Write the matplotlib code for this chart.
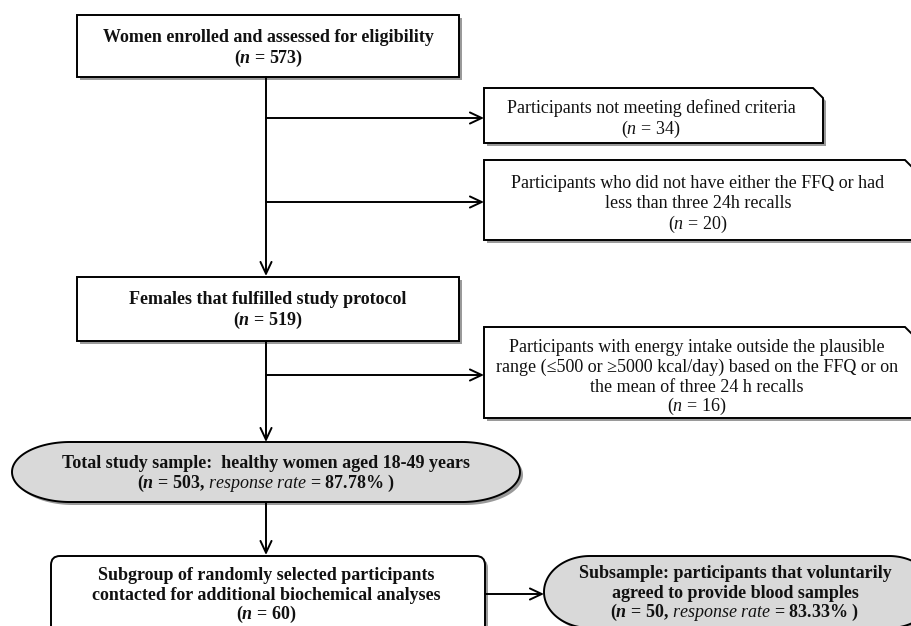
import matplotlib
matplotlib.use("Agg")
import numpy as np
import matplotlib.pyplot as plt
from matplotlib.patches import Polygon, FancyBboxPatch

plt.rcParams['font.family'] = ['Liberation Serif', 'DejaVu Serif']
plt.rcParams['mathtext.fontset'] = 'custom'
plt.rcParams['mathtext.rm'] = 'Liberation Serif'
plt.rcParams['mathtext.it'] = 'Liberation Serif:italic'
plt.rcParams['mathtext.bf'] = 'Liberation Serif:bold'
try:
    plt.rcParams['mathtext.bfit'] = 'Liberation Serif:italic:bold'
except KeyError:
    pass

# ---- data ----
n_enrolled = 573
n_not_criteria = 34
n_no_ffq = 20
n_protocol = 519
n_energy = 16
n_total = 503
rate_total = 87.78
n_subgroup = 60
n_subsample = 50
rate_sub = 83.33

main_titles = ["Women enrolled and assessed for eligibility",
               "Females that fulfilled study protocol"]
excl_texts = [["Participants not meeting defined criteria"],
              ["Participants who did not have either the FFQ or had",
               "less than three 24h recalls"],
              ["Participants with energy intake outside the plausible",
               "range (\u2264500 or \u22655000 kcal/day) based on the FFQ or on",
               "the mean of three 24 h recalls"]]
total_text = "Total study sample:  healthy women aged 18-49 years"
sub_texts = ["Subgroup of randomly selected participants",
             "contacted for additional biochemical analyses"]
subsample_texts = ["Subsample: participants that voluntarily",
                   "agreed to provide blood samples"]

W, H = 911, 626
fig = plt.figure(figsize=(W / 100, H / 100), dpi=100)
ax = fig.add_axes([0, 0, 1, 1])
ax.set_xlim(0, W)
ax.set_ylim(H, 0)
ax.axis('off')

FS = 13.0
LW = 1.4
SH = 3  # shadow offset
shadow_col = '#9a9a9a'
gray_fill = '#d9d9d9'


def rect_box(x0, y0, x1, y1, chamfer=0):
    pts = [(x0, y0), (x1 - chamfer, y0), (x1, y0 + chamfer), (x1, y1), (x0, y1)]
    sh = [(px + SH, py + SH) for px, py in pts]
    ax.add_patch(Polygon(sh, closed=True, fc=shadow_col, ec='none', zorder=1))
    ax.add_patch(Polygon(pts, closed=True, fc='white', ec='black', lw=LW, zorder=2))


def round_box(x0, y0, x1, y1, r=9):
    ax.add_patch(FancyBboxPatch((x0 + SH, y0 + SH), x1 - x0, y1 - y0,
                                boxstyle=f"round,pad=0,rounding_size={r}",
                                fc=shadow_col, ec='none', zorder=1))
    ax.add_patch(FancyBboxPatch((x0, y0), x1 - x0, y1 - y0,
                                boxstyle=f"round,pad=0,rounding_size={r}",
                                fc='white', ec='black', lw=LW, zorder=2))


def terminator(x0, y0, x1, y1, rx):
    """Flat top/bottom with elliptical end caps."""
    cy = (y0 + y1) / 2
    b = (y1 - y0) / 2
    t = np.linspace(np.pi / 2, 3 * np.pi / 2, 120)
    left = np.column_stack([x0 + rx + rx * np.cos(t), cy - b * np.sin(t)])
    t2 = np.linspace(-np.pi / 2, np.pi / 2, 120)
    right = np.column_stack([x1 - rx + rx * np.cos(t2), cy - b * np.sin(t2)])
    pts = np.vstack([left, right])
    ax.add_patch(Polygon(pts + SH, closed=True, fc=shadow_col, ec='none', zorder=1))
    ax.add_patch(Polygon(pts, closed=True, fc=gray_fill, ec='black', lw=LW, zorder=2))


def txt(x, y, s, bold=False):
    ax.text(x, y, s, ha='center', va='center', fontsize=FS,
            fontweight='bold' if bold else 'normal', zorder=5, color='#111111')


def arrow(x0, y0, x1, y1):
    ax.annotate('', xy=(x1, y1), xytext=(x0, y0),
                arrowprops=dict(arrowstyle='->,head_length=0.85,head_width=0.4',
                                lw=LW, color='black', shrinkA=0, shrinkB=0),
                zorder=3)


# ---- connectors ----
arrow(266, 77, 266, 276)
arrow(266, 118, 484, 118)
arrow(266, 202, 484, 202)
arrow(266, 341, 266, 442)
arrow(266, 375, 484, 375)
arrow(266, 503, 266, 555)
arrow(485, 594, 544, 594)

# ---- box 1 ----
rect_box(77, 15, 459, 77)
txt(268, 37, main_titles[0], bold=True)
txt(268, 58, r"($\mathbfit{n}$ = %d)" % n_enrolled, bold=True)

# ---- exclusion A ----
rect_box(484, 88, 823, 143, chamfer=10)
txt(651, 108, excl_texts[0][0])
txt(651, 129, r"($\mathit{n}$ = %d)" % n_not_criteria)

# ---- exclusion B ----
rect_box(484, 160, 915, 240, chamfer=10)
txt(698, 184, excl_texts[1][0])
txt(698, 204, excl_texts[1][1])
txt(698, 224, r"($\mathit{n}$ = %d)" % n_no_ffq)

# ---- box 2 ----
rect_box(77, 277, 459, 341)
txt(268, 300, main_titles[1], bold=True)
txt(268, 320, r"($\mathbfit{n}$ = %d)" % n_protocol, bold=True)

# ---- exclusion C ----
rect_box(484, 327, 915, 418, chamfer=10)
txt(697, 348, excl_texts[2][0])
txt(697, 367, excl_texts[2][1])
txt(697, 387, excl_texts[2][2])
txt(697, 406, r"($\mathit{n}$ = %d)" % n_energy)

# ---- total sample terminator ----
terminator(12, 442, 520, 502, rx=58)
txt(266, 463, total_text, bold=True)
txt(266, 483, r"($\mathbfit{n}$ = %d, $\mathit{response\ rate}$ = %.2f%% )" % (n_total, rate_total), bold=True)

# ---- subgroup ----
round_box(51, 556, 485, 645)
txt(266, 576, sub_texts[0], bold=True)
txt(266, 596, sub_texts[1], bold=True)
txt(266, 614, r"($\mathbfit{n}$ = %d)" % n_subgroup, bold=True)

# ---- subsample terminator ----
terminator(544, 556, 935, 628, rx=46)
txt(735, 574, subsample_texts[0], bold=True)
txt(735, 593, subsample_texts[1], bold=True)
txt(735, 612, r"($\mathbfit{n}$ = %d, $\mathit{response\ rate}$ = %.2f%% )" % (n_subsample, rate_sub), bold=True)

fig.savefig('out.png', dpi=100)
